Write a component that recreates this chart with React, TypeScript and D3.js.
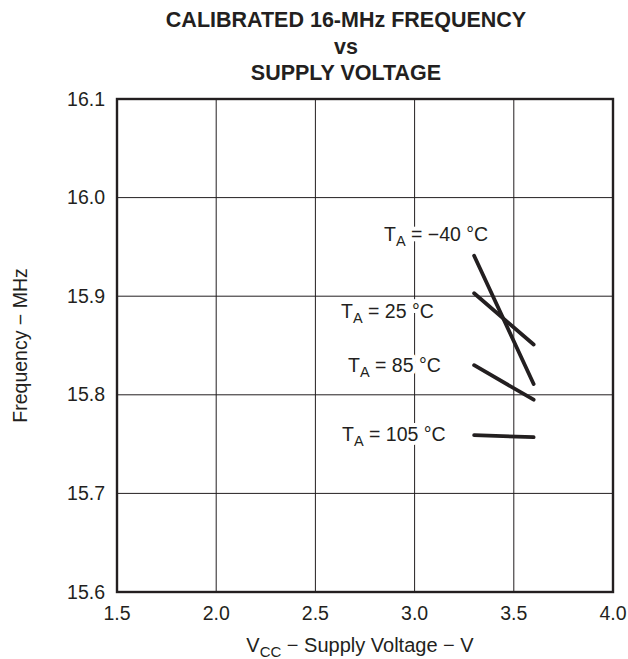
import React from "react";
import * as d3 from "d3";

const xTicks = [1.5, 2.0, 2.5, 3.0, 3.5, 4.0];
const yTicks = [15.6, 15.7, 15.8, 15.9, 16.0, 16.1];
const voltage = [3.3, 3.6];
const tempLabels = ["−40", "25", "85", "105"];
const freqM40 = [15.941, 15.811];
const freq25 = [15.903, 15.851];
const freq85 = [15.83, 15.795];
const freq105 = [15.759, 15.757];
const titleLines = ["CALIBRATED 16-MHz FREQUENCY", "vs", "SUPPLY VOLTAGE"];

const W = 628, H = 659;
const M = { left: 117, right: 613, top: 99, bottom: 592 };
const FONT = "'Liberation Sans', Arial, Helvetica, sans-serif";
const INK = "#231f20";

export default function App() {
  const x = d3.scaleLinear().domain([1.5, 4.0]).range([M.left, M.right]);
  const y = d3.scaleLinear().domain([15.6, 16.1]).range([M.bottom, M.top]);
  const line = d3.line<[number, number]>().x(d => x(d[0])).y(d => y(d[1]));
  const series = [freqM40, freq25, freq85, freq105];
  const labelPos = [
    { x: 384, y: 241 },
    { x: 341, y: 318 },
    { x: 348, y: 372 },
    { x: 342, y: 441 },
  ];
  const titleY = [27, 53.5, 80];
  return (
    <svg width={W} height={H} style={{ position: "absolute", left: 0, top: 0, background: "#fff" }} fontFamily={FONT}>
      <rect x={0} y={0} width={W} height={H} fill="#fff" />
      {titleLines.map((t, i) => (
        <text key={i} x={346} y={titleY[i]} textAnchor="middle" fontWeight="bold" fontSize={21.5} fill={INK}>{t}</text>
      ))}
      {xTicks.slice(1, -1).map(v => (
        <line key={"gx" + v} x1={x(v)} x2={x(v)} y1={M.top} y2={M.bottom} stroke={INK} strokeWidth={1} />
      ))}
      {yTicks.slice(1, -1).map(v => (
        <line key={"gy" + v} x1={M.left} x2={M.right} y1={y(v)} y2={y(v)} stroke={INK} strokeWidth={1} />
      ))}
      {series.map((s, i) => (
        <text key={"l" + i} x={labelPos[i].x} y={labelPos[i].y} fontSize={19.5} fill={INK}
          stroke="#fff" strokeWidth={8} paintOrder="stroke" strokeLinejoin="round">
          T<tspan fontSize={14.5} dy={4.5}>A</tspan><tspan dy={-4.5}> = {tempLabels[i]} °C</tspan>
        </text>
      ))}
      <rect x={M.left} y={M.top} width={M.right - M.left} height={M.bottom - M.top} fill="none" stroke={INK} strokeWidth={2.4} />
      {series.map((s, i) => (
        <path key={"p" + i} d={line(voltage.map((v, j) => [v, s[j]]) as [number, number][]) || ""} fill="none" stroke={INK} strokeWidth={3.8} strokeLinecap="round" />
      ))}
      {xTicks.map(v => (
        <text key={"tx" + v} x={x(v)} y={M.bottom + 28} textAnchor="middle" fontSize={19.5} fill={INK}>{v.toFixed(1)}</text>
      ))}
      {yTicks.map(v => (
        <text key={"ty" + v} x={M.left - 12} y={y(v) + 6.5} textAnchor="end" fontSize={19.5} fill={INK}>{v.toFixed(1)}</text>
      ))}
      <text x={360} y={652} textAnchor="middle" fontSize={20} fill={INK}>
        V<tspan fontSize={15} dy={4.5}>CC</tspan><tspan dy={-4.5}> − Supply Voltage − V</tspan>
      </text>
      <text transform={`translate(27,${(M.top + M.bottom) / 2}) rotate(-90)`} textAnchor="middle" fontSize={19.5} fill={INK}>Frequency − MHz</text>
    </svg>
  );
}
